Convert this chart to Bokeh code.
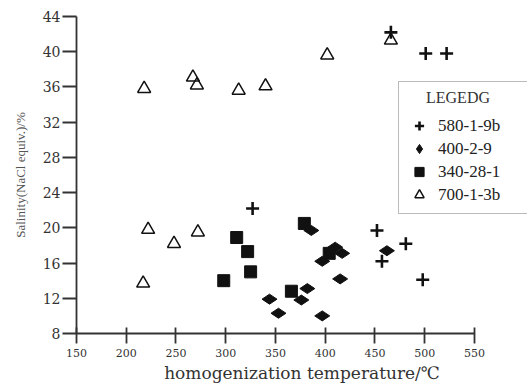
import math
from bokeh.plotting import figure
from bokeh.models import FixedTicker, Legend, LegendItem, Range1d
from bokeh.embed import file_html
from bokeh.resources import INLINE

series_names = ["580-1-9b", "400-2-9", "340-28-1", "700-1-3b"]

plus_x = [466, 501, 522, 327, 452, 481, 457, 498]
plus_y = [42.2, 39.8, 39.8, 22.2, 19.7, 18.2, 16.2, 14.1]

diamond_x = [344, 353, 376, 382, 386, 397, 397, 410, 417, 415, 462]
diamond_y = [11.9, 10.3, 11.8, 13.1, 19.7, 10.0, 16.2, 17.8, 17.1, 14.2, 17.4]

square_x = [298, 311, 322, 325, 366, 379, 404]
square_y = [14.0, 18.9, 17.3, 15.0, 12.8, 20.5, 17.1]

tri_x = [217, 222, 248, 272, 218, 267, 271, 313, 340, 402, 466]
tri_y = [13.7, 19.8, 18.2, 19.5, 35.8, 37.1, 36.2, 35.6, 36.1, 39.6, 41.3]

x_ticks = [150, 200, 250, 300, 350, 400, 450, 500, 550]
y_ticks = [8, 12, 16, 20, 24, 28, 32, 36, 40, 44]

x_title = "homogenization temperature/\u2103"
y_title = "Salinity(NaCl equiv.)/%"
legend_title = "LEGEDG"

INK = "#111111"
AXIS = "#333333"

p = figure(width=528, height=385,
           x_range=Range1d(150, 603.3), y_range=Range1d(8, 44),
           output_backend="svg", toolbar_location=None,
           min_border_left=76, min_border_right=1,
           min_border_top=16, min_border_bottom=52)
p.background_fill_color = "white"
p.border_fill_color = "white"
p.outline_line_color = None
p.xgrid.visible = False
p.ygrid.visible = False

r_plus = p.scatter(plus_x, plus_y, marker="cross", size=13,
                   line_width=2.6, line_color=INK)
r_dia = p.scatter(diamond_x, diamond_y, marker="diamond", angle=math.pi / 2,
                  size=15, fill_color=INK, line_color=INK)
r_sq = p.scatter(square_x, square_y, marker="square", size=12,
                 fill_color=INK, line_color=INK)
r_tri = p.scatter(tri_x, tri_y, marker="triangle", size=13,
                  fill_color=None, line_color=INK, line_width=1.5)

# axes
xa = p.xaxis[0]
xa.ticker = FixedTicker(ticks=x_ticks)
xa.bounds = (150, 550)
xa.axis_line_color = AXIS
xa.axis_line_width = 1.8
xa.major_tick_line_color = AXIS
xa.major_tick_line_width = 1.8
xa.major_tick_in = 6
xa.major_tick_out = 10
xa.minor_tick_line_color = None
xa.major_label_text_font = "DejaVu Serif"
xa.major_label_text_font_size = "11px"
xa.major_label_text_color = "#333333"
xa.major_label_standoff = 5
xa.axis_label = x_title
xa.axis_label_text_font = "DejaVu Serif"
xa.axis_label_text_font_size = "17px"
xa.axis_label_text_font_style = "normal"
xa.axis_label_text_color = "#333333"
xa.axis_label_standoff = 3

ya = p.yaxis[0]
ya.ticker = FixedTicker(ticks=y_ticks)
ya.bounds = (8, 44)
ya.axis_line_color = AXIS
ya.axis_line_width = 1.8
ya.major_tick_line_color = AXIS
ya.major_tick_line_width = 1.8
ya.major_tick_in = 0
ya.major_tick_out = 14
ya.minor_tick_line_color = None
ya.major_label_text_font = "DejaVu Serif"
ya.major_label_text_font_size = "14px"
ya.major_label_text_color = "#333333"
ya.major_label_standoff = 2
ya.axis_label = y_title
ya.axis_label_text_font = "Liberation Serif"
ya.axis_label_text_font_size = "13px"
ya.axis_label_text_font_style = "normal"
ya.axis_label_text_color = "#555555"
ya.axis_label_standoff = 12

legend = Legend(
    items=[LegendItem(label=series_names[0], renderers=[r_plus]),
           LegendItem(label=series_names[1], renderers=[r_dia]),
           LegendItem(label=series_names[2], renderers=[r_sq]),
           LegendItem(label=series_names[3], renderers=[r_tri])],
    title="\u00a0\u00a0\u00a0\u00a0\u00a0" + legend_title,
    location=(322, 119),
    padding=7, spacing=0,
    glyph_width=26, glyph_height=23, label_height=20,
    label_width=83, label_standoff=6,
    title_standoff=7,
    border_line_color="#777777", border_line_width=1.2,
    background_fill_color="white", background_fill_alpha=1.0,
    label_text_font="Liberation Serif", label_text_font_size="17px",
    label_text_color="#222222",
    title_text_font="Liberation Serif", title_text_font_size="16px",
    title_text_font_style="normal", title_text_color="#333333",
)
p.add_layout(legend)

open("out.html", "w").write(file_html(p, INLINE))
